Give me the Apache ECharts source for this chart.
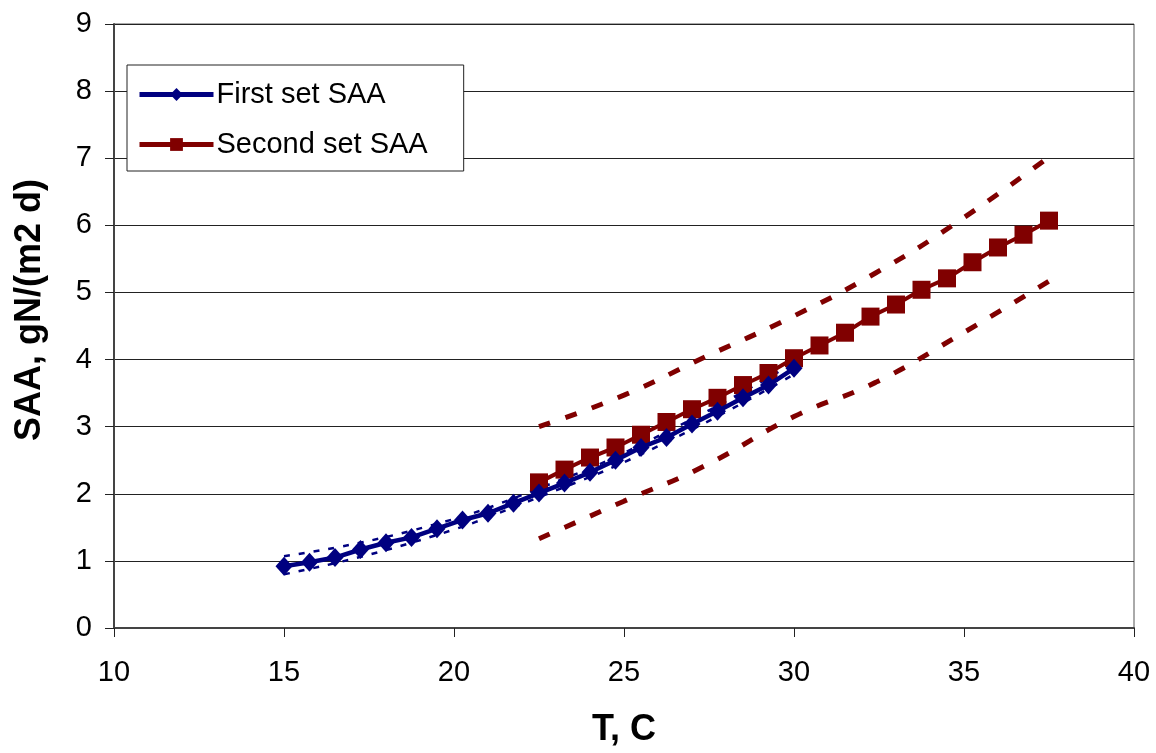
<!DOCTYPE html>
<html lang="en">
<head>
    <meta charset="UTF-8">
    <title>SAA vs T</title>
    <script src="https://cdn.jsdelivr.net/npm/echarts@6/dist/echarts.min.js"></script>
    <style>
        html, body { margin: 0; padding: 0; background: #fff; }
        #main { width: 1156px; height: 753px; }
    </style>
</head>
<body>
<div id="main"></div>
<script>
// temperatures, C
var firstT = [15, 15.75, 16.5, 17.25, 18, 18.75, 19.5, 20.25, 21, 21.75, 22.5,
              23.25, 24, 24.75, 25.5, 26.25, 27, 27.75, 28.5, 29.25, 30];
var secondT = [22.5, 23.25, 24, 24.75, 25.5, 26.25, 27, 27.75, 28.5, 29.25, 30,
               30.75, 31.5, 32.25, 33, 33.75, 34.5, 35.25, 36, 36.75, 37.5];

// SAA, gN/(m2 d)
var firstSAA = [0.92, 0.98, 1.05, 1.17, 1.27, 1.35, 1.48, 1.61, 1.71, 1.86, 2.01,
                2.16, 2.32, 2.50, 2.69, 2.84, 3.04, 3.23, 3.43, 3.62, 3.87];
var secondSAA = [2.17, 2.36, 2.54, 2.69, 2.88, 3.07, 3.26, 3.43, 3.62, 3.80, 4.02,
                 4.21, 4.40, 4.64, 4.82, 5.04, 5.21, 5.45, 5.67, 5.86, 6.07];

// confidence bands (dashed)
var firstBandT = [15, 18.75, 22.5, 26.25, 30];
var firstUpper = [1.07, 1.45, 2.08, 2.92, 3.95];
var firstLower = [0.80, 1.27, 1.95, 2.77, 3.78];
var secondBandT = [22.5, 25, 27.35, 30, 32.4, 34.75, 37.5];
var secondUpper = [3.00, 3.47, 4.03, 4.65, 5.29, 6.03, 7.02];
var secondLower = [1.33, 1.89, 2.41, 3.15, 3.66, 4.33, 5.17];

var xTicks = [10, 15, 20, 25, 30, 35, 40];
var yTicks = [0, 1, 2, 3, 4, 5, 6, 7, 8, 9];

function pairs(xs, ys) {
    var out = [];
    for (var i = 0; i < xs.length; i++) out.push([xs[i], ys[i]]);
    return out;
}

var blue = '#000080';
var red = '#800000';
var font = 'Liberation Sans, Arial, sans-serif';

function band(data, color, width, dash) {
    return {
        type: 'line',
        data: data,
        symbol: 'none',
        smooth: true,
        silent: true,
        z: 1,
        lineStyle: { color: color, width: width, type: dash }
    };
}

var option = {
    animation: false,
    textStyle: { fontFamily: font },
    grid: {
        left: 114, right: 22, top: 24, bottom: 120,
        show: true, borderColor: '#555', borderWidth: 1
    },
    legend: {
        data: ['First set SAA', 'Second set SAA'],
        orient: 'vertical',
        left: 127, top: 65,
        padding: [15, 36, 12, 10],
        itemGap: 21,
        itemWidth: 74, itemHeight: 16,
        backgroundColor: '#fff',
        borderColor: '#222', borderWidth: 1,
        lineStyle: { width: 5 },
        textStyle: { fontSize: 29, color: '#000', fontFamily: font, padding: [0, 0, 0, -2] }
    },
    xAxis: {
        type: 'value',
        min: xTicks[0], max: xTicks[xTicks.length - 1], interval: 5,
        name: 'T, C',
        nameLocation: 'middle',
        nameGap: 84,
        nameTextStyle: { fontSize: 36, fontWeight: 'bold', color: '#000' },
        axisLine: { lineStyle: { color: '#444', width: 2 } },
        axisTick: { show: true, length: 9, lineStyle: { color: '#222' } },
        axisLabel: { fontSize: 29, color: '#000', margin: 30 },
        splitLine: { show: false }
    },
    yAxis: {
        type: 'value',
        min: yTicks[0], max: yTicks[yTicks.length - 1], interval: 1,
        name: 'SAA, gN/(m2 d)',
        nameLocation: 'middle',
        nameGap: 66,
        nameTextStyle: { fontSize: 36, fontWeight: 'bold', color: '#000', padding: [0, 0, 0, 32] },
        axisLine: { show: true, lineStyle: { color: '#444', width: 2 } },
        axisTick: { show: true, length: 9, lineStyle: { color: '#222' } },
        axisLabel: { fontSize: 29, color: '#000', margin: 22 },
        splitLine: { show: true, lineStyle: { color: '#222', width: 1 } }
    },
    series: [
        band(pairs(secondBandT, secondUpper), red, 5, [12, 16]),
        band(pairs(secondBandT, secondLower), red, 5, [12, 16]),
        band(pairs(firstBandT, firstUpper), blue, 2.5, [6, 9]),
        band(pairs(firstBandT, firstLower), blue, 2.5, [6, 9]),
        {
            name: 'Second set SAA',
            type: 'line',
            data: pairs(secondT, secondSAA),
            symbol: 'rect',
            symbolSize: 18,
            z: 3,
            itemStyle: { color: red },
            lineStyle: { color: red, width: 4 }
        },
        {
            name: 'First set SAA',
            type: 'line',
            data: pairs(firstT, firstSAA),
            symbol: 'diamond',
            symbolSize: [17, 19],
            z: 4,
            itemStyle: { color: blue },
            lineStyle: { color: blue, width: 4.5 }
        }
    ]
};

var myChart = echarts.init(document.getElementById('main'));
myChart.setOption(option);
</script>
</body>
</html>
